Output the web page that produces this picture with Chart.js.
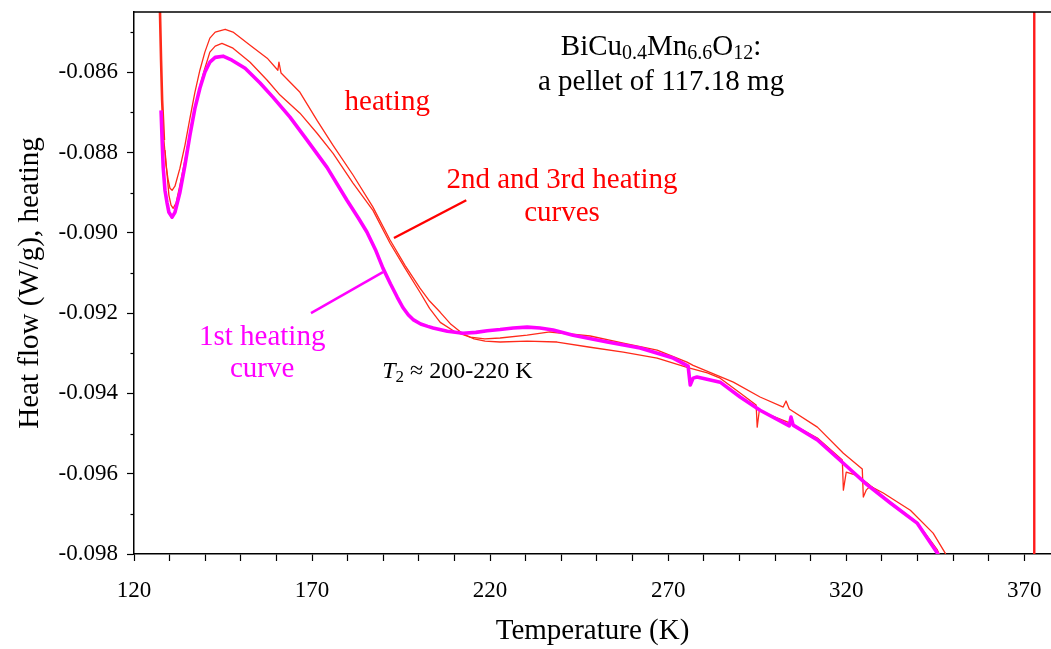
<!DOCTYPE html>
<html>
<head>
<meta charset="utf-8">
<script src="https://cdn.jsdelivr.net/npm/chart.js@4.4.0/dist/chart.umd.min.js"></script>
<style>
  html, body { margin: 0; padding: 0; background: #fff; }
  #wrap { width: 1051px; height: 649px; }
</style>
</head>
<body>
<div id="wrap"><canvas id="dsc" width="1051" height="649"></canvas></div>
<script>
// DSC heating curves, BiCu0.4Mn6.6O12 pellet
// temperature (K) / heat flow (W/g)

// 1st heating curve (magenta)
const t1st = [127.6, 127.9, 128.2, 128.7, 129.3, 129.8, 130.7, 131.5, 132.9, 134.3, 135.7, 137.1, 138.5, 139.9,
  141.3, 142.8, 145.0, 147.5, 151.2, 155.4, 159.0, 163.8, 168.6, 174.2, 179.8, 183.0, 185.4, 187.8, 189.9,
  192.0, 193.9, 195.5, 197.0, 198.5, 200.5, 202.5, 204.0, 208.0, 212.4, 216.0, 219.2, 222.8, 226.5, 230.4,
  234.0, 237.7, 243.3, 252.9, 262.1, 271.4, 275.6, 276.2, 277.0, 278.1, 284.6, 290.2, 295.8, 304.0, 304.5,
  305.1, 311.9, 319.2, 325.9, 332.4, 339.9, 345.6, 347.8];
const hf1st = [-0.08695, -0.08769, -0.08837, -0.08894, -0.08926, -0.08949, -0.08961, -0.08949, -0.08899, -0.08832,
  -0.08757, -0.08690, -0.08640, -0.08600, -0.08575, -0.08563, -0.08560, -0.08570, -0.08590, -0.08627, -0.08662,
  -0.08712, -0.08769, -0.08837, -0.08919, -0.08963, -0.08998, -0.09042, -0.09088, -0.09127, -0.09160, -0.09186,
  -0.09204, -0.09217, -0.09227, -0.09233, -0.09237, -0.09245, -0.09250, -0.09248, -0.09244, -0.09241, -0.09237,
  -0.09235, -0.09237, -0.09242, -0.09255, -0.09272, -0.09287, -0.09312, -0.09332, -0.09379, -0.09362, -0.09359,
  -0.09372, -0.09409, -0.09442, -0.09481, -0.09459, -0.09479, -0.09516, -0.09574, -0.09628, -0.09673, -0.09723,
  -0.09798, -0.09840];

// 2nd heating curve (red, highest around the 145 K maximum)
const t2nd = [127.1, 127.3, 127.6, 127.9, 128.4, 129.0, 129.6, 130.1, 130.7, 131.5, 132.9, 134.3, 135.7, 137.1,
  138.5, 139.9, 141.3, 142.8, 145.6, 147.8, 152.6, 157.4, 160.4, 160.7, 161.3, 166.6, 171.4, 175.9, 181.5,
  187.1, 191.9, 196.1, 200.3, 203.0, 206.0, 209.0, 212.4, 215.5, 218.6, 222.8, 230.4, 238.8, 248.1, 257.4,
  266.9, 275.3, 281.0, 284.6, 290.2, 294.7, 295.0, 295.6, 297.2, 304.3, 311.9, 318.9, 319.2, 320.0, 322.5,
  325.9, 332.4, 339.9, 345.6, 347.8];
const hf2nd = [-0.08421, -0.08451, -0.08570, -0.08670, -0.08769, -0.08832, -0.08869, -0.08889, -0.08894, -0.08884,
  -0.08839, -0.08782, -0.08715, -0.08650, -0.08595, -0.08550, -0.08515, -0.08500, -0.08493, -0.08500, -0.08533,
  -0.08565, -0.08595, -0.08575, -0.08602, -0.08650, -0.08720, -0.08782, -0.08856, -0.08936, -0.09018, -0.09081,
  -0.09138, -0.09170, -0.09198, -0.09228, -0.09252, -0.09264, -0.09270, -0.09272, -0.09270, -0.09272, -0.09285,
  -0.09297, -0.09312, -0.09335, -0.09349, -0.09362, -0.09399, -0.09429, -0.09484, -0.09442, -0.09449, -0.09474,
  -0.09511, -0.09566, -0.09641, -0.09596, -0.09603, -0.09623, -0.09671, -0.09721, -0.09790, -0.09835];

// 3rd heating curve (red, uppermost above 260 K)
const t3rd = [128.7, 129.3, 129.8, 130.4, 131.0, 131.8, 132.9, 134.3, 135.7, 137.1, 138.5, 139.9, 141.3, 142.8,
  144.7, 147.8, 152.6, 157.4, 161.0, 166.6, 171.4, 175.9, 181.5, 187.1, 191.9, 196.1, 200.3, 203.0, 206.0,
  210.0, 214.4, 218.5, 222.8, 230.4, 236.8, 248.1, 257.4, 266.9, 275.3, 277.0, 288.3, 295.8, 302.3, 303.1,
  304.0, 311.9, 319.2, 324.5, 324.8, 325.6, 326.7, 330.4, 338.0, 344.4, 347.8, 349.8];
const hf3rd = [-0.08794, -0.08856, -0.08906, -0.08931, -0.08939, -0.08926, -0.08881, -0.08819, -0.08752, -0.08690,
  -0.08635, -0.08590, -0.08550, -0.08535, -0.08528, -0.08540, -0.08575, -0.08620, -0.08657, -0.08702, -0.08752,
  -0.08802, -0.08876, -0.08944, -0.09026, -0.09088, -0.09148, -0.09188, -0.09223, -0.09246, -0.09260, -0.09264,
  -0.09262, -0.09255, -0.09247, -0.09257, -0.09275, -0.09292, -0.09322, -0.09330, -0.09372, -0.09409, -0.09434,
  -0.09419, -0.09439, -0.09484, -0.09549, -0.09588, -0.09658, -0.09641, -0.09631, -0.09648, -0.09691, -0.09748,
  -0.09798, -0.09845];

// end-of-run vertical trace at the right
const tEnd = [372.8, 372.8];
const hfEnd = [-0.0990, -0.0840];

// pointer lines from the labels to the curves
const tPtrRed = [193.0, 213.3];
const hfPtrRed = [-0.09013, -0.08919];
const tPtrMag = [169.7, 189.9];
const hfPtrMag = [-0.09200, -0.09098];

// labelled ticks
const xLabelTicks = [120, 170, 220, 270, 320, 370];
const yLabelTicks = [-0.086, -0.088, -0.090, -0.092, -0.094, -0.096, -0.098];

const pts = (xs, ys) => xs.map((x, i) => ({ x: x, y: ys[i] }));
const isLabelledY = v => yLabelTicks.some(t => Math.abs(t - v) < 1e-9);

const SERIF = "'Liberation Serif', 'Times New Roman', serif";
const RED = '#ff2a1a';
const MAG = '#ff00ff';

// texts drawn on the plot, anchored in data units
const notes = {
  id: 'notes',
  afterDatasetsDraw(chart) {
    const { ctx, chartArea, scales: { x, y } } = chart;
    ctx.save();

    // frame line on top
    ctx.strokeStyle = '#000';
    ctx.lineWidth = 1.5;
    ctx.beginPath();
    ctx.moveTo(chartArea.left, chartArea.top);
    ctx.lineTo(chart.width, chartArea.top);
    ctx.stroke();

    // short minor ticks on the heat flow axis
    ctx.lineWidth = 1.2;
    y.ticks.forEach(t => {
      if (isLabelledY(t.value)) return;
      const py = Math.round(y.getPixelForValue(t.value)) + 0.5;
      ctx.beginPath();
      ctx.moveTo(chartArea.left - 3.5, py);
      ctx.lineTo(chartArea.left, py);
      ctx.stroke();
    });

    ctx.textBaseline = 'middle';
    const center = (txt, tx, hy, color, size) => {
      ctx.font = size + 'px ' + SERIF;
      ctx.fillStyle = color;
      ctx.textAlign = 'center';
      ctx.fillText(txt, x.getPixelForValue(tx), y.getPixelForValue(hy));
    };
    // mixed runs: [text, isSub, italic]
    const runs = (parts, cx, cy, color, size, subSize, alignLeft) => {
      const widths = parts.map(p => {
        ctx.font = (p[2] ? 'italic ' : '') + (p[1] ? subSize : size) + 'px ' + SERIF;
        return ctx.measureText(p[0]).width;
      });
      const total = widths.reduce((a, b) => a + b, 0);
      let px = alignLeft ? cx : cx - total / 2;
      ctx.textAlign = 'left';
      ctx.fillStyle = color;
      parts.forEach((p, i) => {
        ctx.font = (p[2] ? 'italic ' : '') + (p[1] ? subSize : size) + 'px ' + SERIF;
        ctx.fillText(p[0], px, cy + (p[1] ? size * 0.22 : 0));
        px += widths[i];
      });
    };

    runs([['BiCu', false], ['0.4', true], ['Mn', false], ['6.6', true], ['O', false], ['12', true], [':', false]],
      x.getPixelForValue(268.0), y.getPixelForValue(-0.08538), '#000', 29, 20, false);
    center('a pellet of 117.18 mg', 268.0, -0.08625, '#000', 29);

    center('heating', 191.1, -0.08675, '#ff0000', 29);
    center('2nd and 3rd heating', 240.2, -0.08869, '#ff0000', 29);
    center('curves', 240.2, -0.08951, '#ff0000', 29);

    center('1st heating', 156.0, -0.09260, MAG, 29);
    center('curve', 156.0, -0.09340, MAG, 29);

    runs([['T', false, true], ['2', true], [' \u2248 200-220 K', false]],
      x.getPixelForValue(189.7), y.getPixelForValue(-0.09347), '#000', 24, 17, true);

    ctx.restore();
  }
};

const lineSet = (label, data, color, width, order) => ({
  label: label,
  data: data,
  borderColor: color,
  borderWidth: width,
  pointRadius: 0,
  tension: 0,
  borderJoinStyle: 'round',
  fill: false,
  order: order
});

const ds2 = lineSet('2nd heating', pts(t2nd, hf2nd), RED, 1.3, 2);
// the start transient is drawn heavier
ds2.segment = { borderWidth: c => (c.p0DataIndex < 4 ? 2.6 : 1.3) };

new Chart(document.getElementById('dsc'), {
  type: 'line',
  data: {
    datasets: [
      lineSet('1st heating', pts(t1st, hf1st), MAG, 3.6, 1),
      ds2,
      lineSet('3rd heating', pts(t3rd, hf3rd), RED, 1.3, 2),
      lineSet('end', pts(tEnd, hfEnd), '#ff1a1a', 2.4, 2),
      lineSet('ptr red', pts(tPtrRed, hfPtrRed), '#ff0000', 2.4, 0),
      lineSet('ptr mag', pts(tPtrMag, hfPtrMag), MAG, 2.4, 0)
    ]
  },
  options: {
    responsive: false,
    animation: false,
    events: [],
    layout: { padding: { top: 12, right: 0, bottom: 0, left: 0 } },
    plugins: { legend: { display: false }, tooltip: { enabled: false } },
    scales: {
      x: {
        type: 'linear',
        min: 120,
        max: 377.5,
        afterBuildTicks: s => { s.ticks = s.ticks.filter(t => Math.abs(t.value / 10 - Math.round(t.value / 10)) < 1e-6); },
        afterFit: s => { s.height = 95; s.paddingLeft = 0; s.paddingRight = 0; },
        ticks: {
          stepSize: 10,
          includeBounds: false,
          autoSkip: false,
          maxRotation: 0,
          padding: 16,
          color: '#000',
          font: { family: SERIF, size: 23 },
          callback: v => (xLabelTicks.includes(Math.round(v)) ? String(Math.round(v)) : '')
        },
        grid: { drawOnChartArea: false, tickLength: 7, color: '#000', tickWidth: 1.2 },
        border: { color: '#000', width: 1.5 },
        title: {
          display: true,
          text: 'Temperature (K)',
          color: '#000',
          font: { family: SERIF, size: 29 },
          padding: { top: 0, bottom: 0 }
        }
      },
      y: {
        min: -0.098,
        max: -0.0845,
        afterBuildTicks: s => { s.ticks = s.ticks.filter(t => Math.abs(t.value * 1000 - Math.round(t.value * 1000)) < 1e-6); },
        afterFit: s => { s.width = 134; s.paddingTop = 0; s.paddingBottom = 0; },
        ticks: {
          stepSize: 0.001,
          includeBounds: false,
          autoSkip: false,
          padding: 9,
          color: '#000',
          font: { family: SERIF, size: 23 },
          callback: v => {
            const hit = yLabelTicks.find(t => Math.abs(t - v) < 1e-9);
            return hit === undefined ? '' : hit.toFixed(3);
          }
        },
        grid: {
          drawOnChartArea: false,
          tickLength: 7,
          color: '#000',
          tickWidth: 1.2,
          tickColor: c => (c.tick && isLabelledY(c.tick.value) ? '#000' : 'rgba(0,0,0,0)')
        },
        border: { color: '#000', width: 1.5 },
        title: {
          display: true,
          text: 'Heat flow (W/g), heating',
          color: '#000',
          font: { family: SERIF, size: 29 },
          padding: { top: 13, bottom: 0 }
        }
      }
    }
  },
  plugins: [notes]
});
</script>
</body>
</html>
